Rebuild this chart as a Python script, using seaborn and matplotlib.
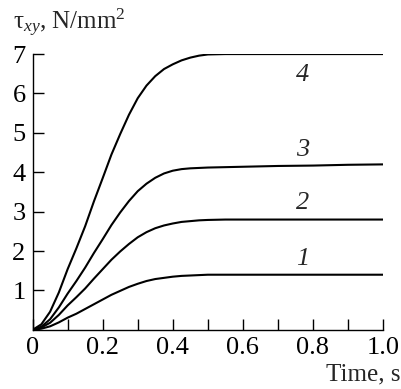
import pandas as pd
import matplotlib
matplotlib.use("Agg")
import matplotlib.pyplot as plt
import seaborn as sns

# values
time_s = [0.0, 0.025, 0.05, 0.075, 0.1, 0.125, 0.15, 0.175, 0.2, 0.225, 0.25, 0.275, 0.3,
          0.325, 0.35, 0.375, 0.4, 0.425, 0.45, 0.475, 0.5, 0.55, 0.6, 0.7, 0.8, 0.9, 1.0]
curve_1 = [0.0, 0.03, 0.09, 0.19, 0.31, 0.41, 0.53, 0.65, 0.77, 0.89, 0.99, 1.09, 1.17,
           1.24, 1.29, 1.32, 1.35, 1.37, 1.38, 1.39, 1.40, 1.40, 1.40, 1.40, 1.40, 1.40, 1.40]
curve_2 = [0.0, 0.06, 0.18, 0.38, 0.62, 0.83, 1.05, 1.30, 1.54, 1.78, 1.99, 2.18, 2.35,
           2.48, 2.58, 2.65, 2.70, 2.74, 2.76, 2.78, 2.79, 2.80, 2.80, 2.80, 2.80, 2.80, 2.80]
curve_3 = [0.0, 0.08, 0.27, 0.57, 0.92, 1.24, 1.58, 1.95, 2.30, 2.66, 2.98, 3.27, 3.52,
           3.71, 3.86, 3.97, 4.04, 4.08, 4.10, 4.11, 4.12, 4.13, 4.14, 4.16, 4.17, 4.19, 4.20]
curve_4 = [0.0, 0.14, 0.46, 0.95, 1.54, 2.07, 2.63, 3.26, 3.85, 4.45, 4.97, 5.46, 5.88,
           6.20, 6.44, 6.62, 6.74, 6.84, 6.91, 6.96, 6.99, 7.00, 7.00, 7.00, 7.00, 7.00, 7.00]
curve_names = ["1", "2", "3", "4"]
label_x = [0.77, 0.77, 0.77, 0.77]
label_y = [1.81, 3.22, 4.56, 6.47]

x_ticks = [0, 0.1, 0.2, 0.3, 0.4, 0.5, 0.6, 0.7, 0.8, 0.9, 1.0]
x_tick_labels = ["0", "", "0.2", "", "0.4", "", "0.6", "", "0.8", "", "1.0"]
y_ticks = [1, 2, 3, 4, 5, 6, 7]

frames = []
for name, vals in zip(curve_names, [curve_1, curve_2, curve_3, curve_4]):
    frames.append(pd.DataFrame({"time": time_s, "tau": vals, "curve": name}))
df = pd.concat(frames, ignore_index=True)

sns.set_style("ticks")
plt.rcParams["font.family"] = ["Liberation Serif", "DejaVu Serif"]
plt.rcParams["mathtext.fontset"] = "custom"
plt.rcParams["mathtext.rm"] = "Liberation Serif"
plt.rcParams["mathtext.it"] = "Liberation Serif:italic"

fig = plt.figure(figsize=(4.02, 3.89), dpi=100)
ax = fig.add_axes([0.081, 0.152, 0.872, 0.709])

sns.lineplot(data=df, x="time", y="tau", hue="curve",
             palette=["black"] * 4, linewidth=1.5, legend=False, ax=ax)

for name, lx, ly in zip(curve_names, label_x, label_y):
    ax.text(lx, ly, name, fontsize=19, style="italic", ha="center", va="center")

ax.set_xlim(0, 1.0)
ax.set_ylim(0, 7)
ax.set_xticks(x_ticks)
ax.set_xticklabels(x_tick_labels)
ax.set_yticks(y_ticks)
ax.tick_params(direction="in", length=8, width=1.0, labelsize=19, colors="black", pad=5)
ax.set_xlabel("")
ax.set_ylabel("")
sns.despine(ax=ax)
for sp in ax.spines.values():
    sp.set_linewidth(1.0)
    sp.set_color("black")

fig.text(0.032, 0.941, r"τ$_{xy}$, N/mm$^2$", fontsize=18, ha="left", va="center")
fig.text(0.997, 0.038, "Time, s", fontsize=18, ha="right", va="center")

fig.savefig("out.png", dpi=100)
